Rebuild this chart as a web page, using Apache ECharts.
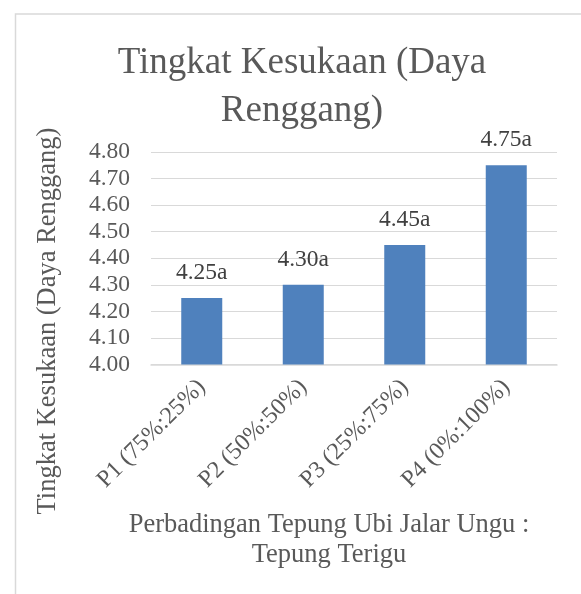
<!DOCTYPE html>
<html>
<head>
<meta charset="utf-8">
<script src="https://cdn.jsdelivr.net/npm/echarts@6/dist/echarts.min.js"></script>
<style>
  html, body { margin: 0; padding: 0; background: #fff; }
  #chart { width: 581px; height: 594px; }
</style>
</head>
<body>
<div id="chart"></div>
<script>
// data
var categories = ['P1 (75%:25%)', 'P2 (50%:50%)', 'P3 (25%:75%)', 'P4 (0%:100%)'];
var values = [4.25, 4.30, 4.45, 4.75];
var notation = ['a', 'a', 'a', 'a'];
var yTicks = { min: 4.0, max: 4.8, step: 0.1 };

var font = '"Liberation Serif", "Times New Roman", serif';
var grey = '#595959';

var chart = echarts.init(document.getElementById('chart'));

var option = {
    animation: false,
    title: [
        {
            text: 'Tingkat Kesukaan (Daya\nRenggang)',
            left: 297,
            top: 34,
            textAlign: 'center',
            textStyle: { fontFamily: font, fontSize: 37, fontWeight: 'normal', color: grey, lineHeight: 48 }
        },
        {
            text: 'Perbadingan Tepung Ubi Jalar Ungu :\nTepung Terigu',
            left: 324,
            top: 505,
            textAlign: 'center',
            textStyle: { fontFamily: font, fontSize: 26.5, fontWeight: 'normal', color: grey, lineHeight: 30 }
        }
    ],
    graphic: [
        {
            type: 'rect',
            shape: { x: 15.5, y: 14, width: 700, height: 700 },
            style: { fill: 'none', stroke: '#d9d9d9', lineWidth: 1.5 },
            silent: true
        },
        {
            type: 'text',
            x: 48,
            y: 321,
            rotation: Math.PI / 2,
            style: {
                text: 'Tingkat Kesukaan (Daya Renggang)',
                font: '26.5px ' + font,
                fill: grey,
                align: 'center',
                verticalAlign: 'middle'
            }
        }
    ],
    grid: { left: 151, right: 24, top: 152, bottom: 229.5, containLabel: false },
    xAxis: {
        type: 'category',
        data: categories,
        axisLine: { lineStyle: { color: '#d9d9d9', width: 1.5 } },
        axisTick: { show: false },
        axisLabel: {
            rotate: 45,
            margin: 19,
            interval: 0,
            fontFamily: font,
            fontSize: 24,
            color: grey
        }
    },
    yAxis: {
        type: 'value',
        min: yTicks.min,
        max: yTicks.max,
        interval: yTicks.step,
        axisLine: { show: false },
        axisTick: { show: false },
        splitLine: { lineStyle: { color: '#d9d9d9', width: 1.2 } },
        axisLabel: {
            margin: 21,
            fontFamily: font,
            fontSize: 23.5,
            color: grey,
            formatter: function (v) { return v.toFixed(2); }
        }
    },
    series: [
        {
            type: 'bar',
            data: values,
            barWidth: 41,
            itemStyle: { color: '#4f81bd' },
            label: {
                show: true,
                position: 'top',
                distance: 13,
                fontFamily: font,
                fontSize: 23.5,
                color: '#404040',
                formatter: function (p) { return p.value.toFixed(2) + notation[p.dataIndex]; }
            }
        }
    ]
};

chart.setOption(option);
</script>
</body>
</html>
